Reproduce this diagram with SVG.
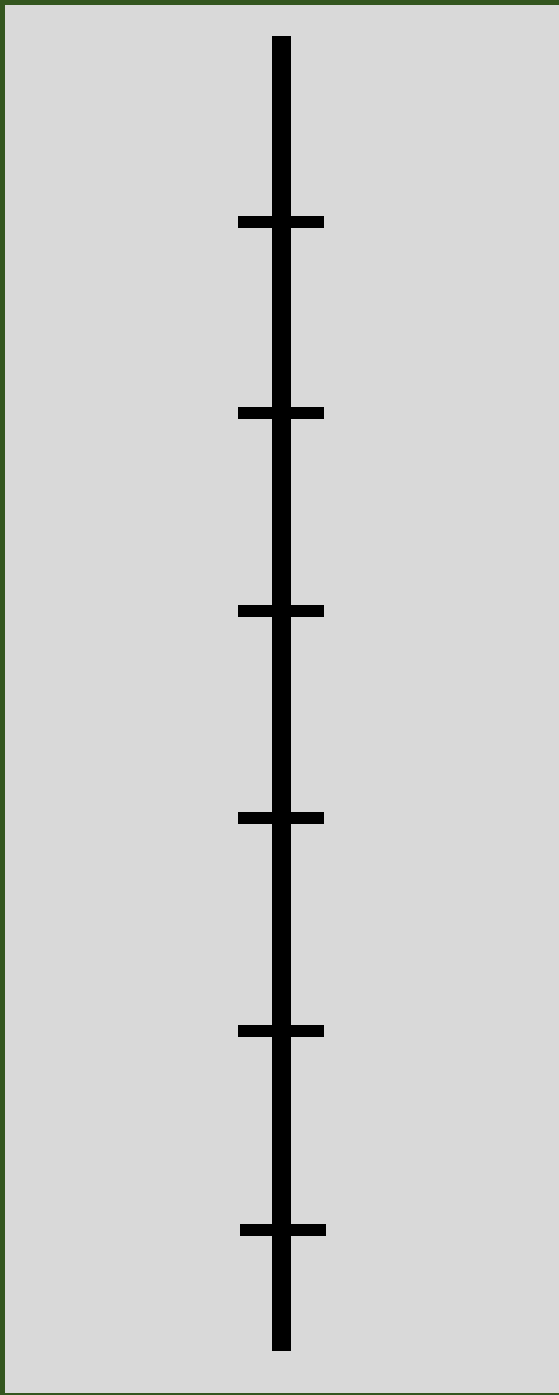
<svg xmlns="http://www.w3.org/2000/svg" width="559" height="1395" viewBox="0 0 559 1395">
<style>.bar{fill:#000}.tick{fill:#000}</style>
<rect x="0" y="0" width="559" height="1395" fill="#34561f"/>
<rect x="5" y="5" width="554" height="1388" fill="#d9d9d9"/>
<g id="axis">
<rect class="bar" x="272" y="36" width="19" height="1315"/>
</g>
<g id="ticks">
<rect class="tick" x="238" y="216" width="86" height="12"/>
<rect class="tick" x="238" y="407" width="86" height="12"/>
<rect class="tick" x="238" y="605" width="86" height="12"/>
<rect class="tick" x="238" y="812" width="86" height="12"/>
<rect class="tick" x="238" y="1025" width="86" height="12"/>
<rect class="tick" x="240" y="1224" width="86" height="12"/>
</g>
</svg>
